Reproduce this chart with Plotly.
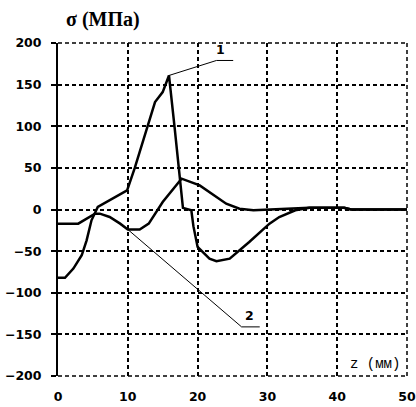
import plotly.graph_objects as go

# Curve 1 (sharp peak)
x1 = [0, 1.0, 2.2, 3.4, 4.1, 4.8, 5.7, 7.4, 9.9, 11.0, 13.9, 15.0, 15.9, 16.7, 17.4, 17.9, 19.1, 19.4, 20.0, 21.7, 22.7, 24.6, 27.4, 30.3, 31.7, 34.0, 36.0, 41.0, 42.0, 50.0]
y1 = [-82, -82, -71, -55, -37, -13, 3, 11, 23, 50, 129, 141, 161, 99, 38, 2, -1, -20, -45, -59, -62, -59, -39, -17, -9, -1, 2, 2, 0, 0]

# Curve 2 (smooth)
x2 = [0, 2.9, 5.3, 6.0, 7.4, 8.9, 10.0, 11.7, 13.0, 15.0, 17.7, 20.3, 24.1, 26.0, 28.0, 36.0, 41.0, 42.0, 50.0]
y2 = [-17, -17, -5, -5, -9, -17, -24, -24, -17, 9, 37, 29, 7, 1, -1, 2, 2, 0, 0]

x_ticks = [0, 10, 20, 30, 40, 50]
y_ticks = [-200, -150, -100, -50, 0, 50, 100, 150, 200]

# leader lines for labels
lead1_x = [15.9, 22.7, 25.1]
lead1_y = [161, 179, 179]
lead2_x = [10.0, 26.3, 28.9]
lead2_y = [-24, -141, -141]
label1 = ("1", 23.3, 192)
label2 = ("2", 27.4, -127)

fig = go.Figure()
fig.add_trace(go.Scatter(x=x1, y=y1, mode="lines", line=dict(color="black", width=2.5), showlegend=False))
fig.add_trace(go.Scatter(x=x2, y=y2, mode="lines", line=dict(color="black", width=2.5), showlegend=False))
fig.add_trace(go.Scatter(x=lead1_x, y=lead1_y, mode="lines", line=dict(color="black", width=1), showlegend=False))
fig.add_trace(go.Scatter(x=lead2_x, y=lead2_y, mode="lines", line=dict(color="black", width=1), showlegend=False))

tick_font = dict(family="DejaVu Sans", size=12.5, color="black", weight="bold")

for txt, lx, ly in (label1, label2):
    fig.add_annotation(x=lx, y=ly, text=txt, showarrow=False, font=tick_font)

fig.add_annotation(x=45.4, y=-185, text="z (мм)", showarrow=False,
                   font=dict(family="Liberation Mono", size=14, color="black"))
fig.add_annotation(x=0.018, y=1.07, xref="paper", yref="paper", xanchor="left", yanchor="middle",
                   text="σ (МПа)", showarrow=False,
                   font=dict(family="Liberation Serif", size=20, color="black", weight="bold"))

# dashed border on the edges where plotly draws no gridline
dash_style = dict(color="black", width=1.5, dash="4px,3px")
fig.add_shape(type="line", xref="paper", yref="paper", x0=1, x1=1, y0=0, y1=1, line=dash_style)
fig.add_shape(type="line", xref="paper", yref="paper", x0=0, x1=1, y0=1, y1=1, line=dash_style)
fig.add_shape(type="line", xref="paper", yref="paper", x0=0, x1=1, y0=0, y1=0, line=dash_style)

fig.update_xaxes(range=[0, 50], tickvals=x_ticks, showgrid=True, gridcolor="black", gridwidth=1.5,
                 griddash="4px,3px", zeroline=False, showline=False, ticks="",
                 tickfont=tick_font, ticklabelstandoff=11, ticklabeloverflow="allow",
                 automargin=False)
fig.update_yaxes(range=[-200, 200], tickvals=y_ticks, showgrid=True, gridcolor="black", gridwidth=1.5,
                 griddash="4px,3px", zeroline=False, showline=True, linecolor="black", linewidth=2,
                 ticks="outside", ticklen=5, tickwidth=1.5, tickcolor="black",
                 tickfont=tick_font, ticklabelstandoff=7, automargin=False)

fig.update_layout(width=416, height=407, margin=dict(l=58, r=9, t=43, b=31),
                  plot_bgcolor="white", paper_bgcolor="white")
fig.write_html("out.html", config={"displayModeBar": False},
               post_script="document.body.style.margin='0';document.body.style.overflow='hidden';")
